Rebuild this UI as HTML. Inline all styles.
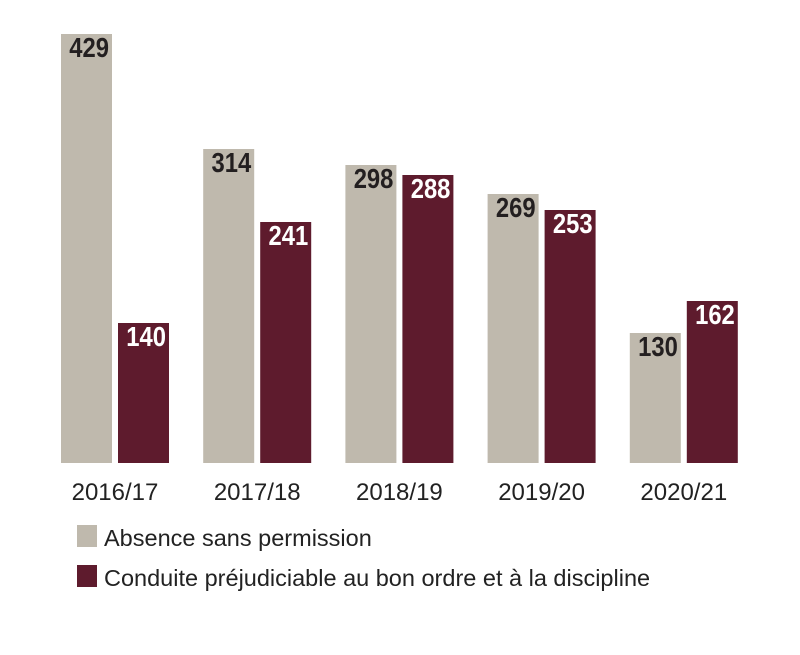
<!DOCTYPE html>
<html><head><meta charset="utf-8">
<style>
body{margin:0;background:#fff;}
svg text{font-family:"Liberation Sans Narrow","Liberation Sans",sans-serif;}
</style></head>
<body>
<svg width="800" height="650" viewBox="0 0 800 650">
<g id="bars"></g>
<g id="legend">
 <rect x="77" y="525" width="20" height="22" fill="#bfb9ad"/>
 <text x="104" y="546" font-size="23.5" fill="#222">Absence sans permission</text>
 <rect x="77" y="565" width="20" height="22" fill="#5e1b2d"/>
 <text x="104" y="586" font-size="23.5" fill="#222">Conduite préjudiciable au bon ordre et à la discipline</text>
</g>
</svg>
<script>
const categories=["2016/17","2017/18","2018/19","2019/20","2020/21"];
const absence=[429,314,298,269,130];
const conduite=[140,241,288,253,162];
const baseY=463, scale=1.0, x0=61, step=142.2, bw=51, gap=6;
const g=document.getElementById('bars');
const NS="http://www.w3.org/2000/svg";
function yOf(v){return baseY-v*scale;}
function bar(x,v,fill,tc,name){
  const r=document.createElementNS(NS,'rect');
  r.setAttribute('x',x);r.setAttribute('y',yOf(v));r.setAttribute('width',bw);r.setAttribute('height',v*scale);r.setAttribute('fill',fill);
  
  
  g.appendChild(r);
  const t=document.createElementNS(NS,'text');
  const tx=x+bw-3;
  t.setAttribute('x',tx);t.setAttribute('y',yOf(v)+23);t.setAttribute('text-anchor','end');
  t.setAttribute('font-size','28');t.setAttribute('font-weight','bold');t.setAttribute('fill',tc);
  t.setAttribute('transform',`translate(${tx} 0) scale(0.85 1) translate(${-tx} 0)`);
  t.textContent=v;
  
  
  g.appendChild(t);
}
categories.forEach((c,i)=>{
  const x=x0+i*step;
  bar(x,absence[i],'#bfb9ad','#231f20','bar-absence-'+i);
  bar(x+bw+gap,conduite[i],'#5e1b2d','#ffffff','bar-conduite-'+i);
  const t=document.createElementNS(NS,'text');
  const cx=x+bw+gap/2;
  t.setAttribute('x',cx);t.setAttribute('y',500);t.setAttribute('text-anchor','middle');
  t.setAttribute('font-size','24');t.setAttribute('fill','#222');
  t.textContent=c;
  
  
  g.appendChild(t);
});
</script>
</body></html>
